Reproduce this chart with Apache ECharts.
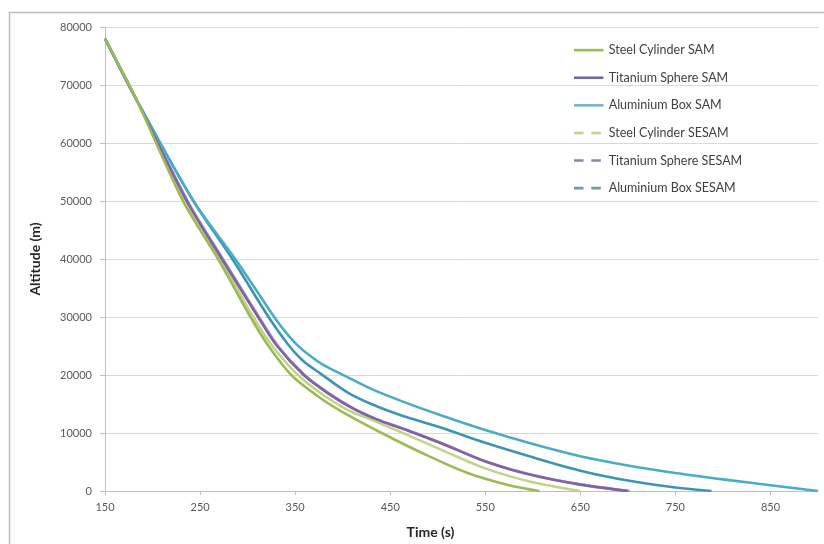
<!DOCTYPE html>
<html>
<head>
<meta charset="utf-8">
<script src="https://cdn.jsdelivr.net/npm/echarts@6/dist/echarts.min.js"></script>
<style>html,body{margin:0;padding:0;background:#fff}#c{width:824px;height:544px}</style>
</head>
<body>
<div id="c"></div>
<script>
const seriesNames = ["Steel Cylinder SAM","Titanium Sphere SAM","Aluminium Box SAM","Steel Cylinder SESAM","Titanium Sphere SESAM","Aluminium Box SESAM"];
const xTicks = [150,250,350,450,550,650,750,850];
const yTicks = [0,10000,20000,30000,40000,50000,60000,70000,80000];

const steelSamT   = [150,183,232,269,303,322,346,375,400,441,483,530,575,607];
const steelSamAlt = [78000,67500,50000,40000,30000,25000,20000,16200,13600,10000,6600,3200,1000,0];

const steelSesamT   = [150,183,234,271,306,326,353,380,405,430,462,504,550,600,650];
const steelSesamAlt = [78000,67500,50000,40000,30000,25000,20000,16500,14000,12300,10100,7100,3900,1500,0];

const titanSamT   = [150,183,236,273,311,331,359,385,410,435,462,504,550,600,650,700];
const titanSamAlt = [78000,67500,50000,40000,30000,25000,20000,16800,14300,12400,10800,8200,5100,2700,1100,0];

const titanSesamT   = [150,183,237,274,312,332,360,386,411,436,463,505,551,601,651,702];
const titanSesamAlt = [78000,67500,50000,40000,30000,25000,20000,16800,14300,12400,10800,8200,5100,2700,1100,0];

const aluSamT   = [150,183,243,287,328,340,352,365,380,402,430,462,504,550,600,650,700,750,800,850,900];
const aluSamAlt = [78000,67500,50000,40000,30000,27400,25200,23400,21700,19900,17600,15500,13000,10500,8100,6000,4400,3100,2000,1000,0];

const aluSesamT   = [150,183,243,284,322,342,358,377,405,430,462,504,550,600,650,700,750,788];
const aluSesamAlt = [78000,67500,50000,40000,30000,25400,22500,20200,17000,15000,13000,10900,8300,5800,3500,1800,600,0];

const colors = ["#9BBB59","#8064A2","#4BACC6","#C0D48A","#A896C8","#3F94B4"];
const legendColors = ["#9BBB59","#6E6A9A","#72B4C8","#C0D48A","#8A86A8","#6F98A8"];
const times = [steelSamT, titanSamT, aluSamT, steelSesamT, titanSesamT, aluSesamT];
const alts = [steelSamAlt, titanSamAlt, aluSamAlt, steelSesamAlt, titanSesamAlt, aluSesamAlt];

function pairs(t, a){ return t.map((v,i)=>[v,a[i]]); }

const font = "Lato, 'Open Sans', sans-serif";
const chart = echarts.init(document.getElementById('c'), null, {renderer:'canvas'});

const series = seriesNames.map((n,i)=>({
  name:n, type:'line', data:pairs(times[i],alts[i]),
  symbol:'none', smooth:0.3, z: 10 - i,
  lineStyle:{color:colors[i], width:2.6},
  itemStyle:{color:colors[i]}
}));

const solidIcon = 'path://M0,0h34v3h-34z';
const dashIcon = 'path://M0,0h11v3h-11z M20,0h11v3h-11z M34,0h0v3h0z';

chart.setOption({
  animation:false,
  backgroundColor:'#fff',
  graphic:[{type:'rect', shape:{x:9.5,y:12.5,width:820,height:560}, style:{fill:'none',stroke:'#BDBDBD',lineWidth:1.5}, silent:true, z:-1}],
  grid:{left:105, right:6, top:27, bottom:48, containLabel:false},
  legend:{
    orient:'vertical', left:569, top:38, itemWidth:34, itemHeight:2.6, itemGap:13.3,
    textStyle:{fontFamily:font, fontSize:12.5, color:'#404040', lineHeight:14.3, padding:[0,0,0,-2]},
    data: seriesNames.map((n,i)=>({name:n, icon: i>=3 ? dashIcon : solidIcon, itemStyle:{color:legendColors[i]}}))
  },
  xAxis:{
    type:'value', min:150, max:900, interval:100,
    name:'Time (s)', nameLocation:'middle', nameGap:34,
    nameTextStyle:{fontFamily:font, fontSize:14, fontWeight:'bold', color:'#262626', padding:[0,62,0,0]},
    axisLine:{show:true, lineStyle:{color:'#BFBFBF', width:1}},
    axisTick:{show:true, length:4, lineStyle:{color:'#BFBFBF'}},
    axisLabel:{fontFamily:font, fontSize:11, color:'#595959', margin:11, showMaxLabel:false},
    splitLine:{show:false}
  },
  yAxis:{
    type:'value', min:0, max:80000, interval:10000,
    name:'Altitude (m)', nameLocation:'middle', nameGap:63,
    nameTextStyle:{fontFamily:font, fontSize:14, fontWeight:'bold', color:'#262626'},
    axisLine:{show:true, lineStyle:{color:'#BFBFBF', width:1}},
    axisTick:{show:true, length:5, inside:false, lineStyle:{color:'#BFBFBF'}},
    axisLabel:{fontFamily:font, fontSize:11, color:'#595959', margin:13, formatter:(v)=>String(v)},
    splitLine:{show:true, lineStyle:{color:'#D9D9D9', width:1}}
  },
  series:series
});
</script>
</body>
</html>
